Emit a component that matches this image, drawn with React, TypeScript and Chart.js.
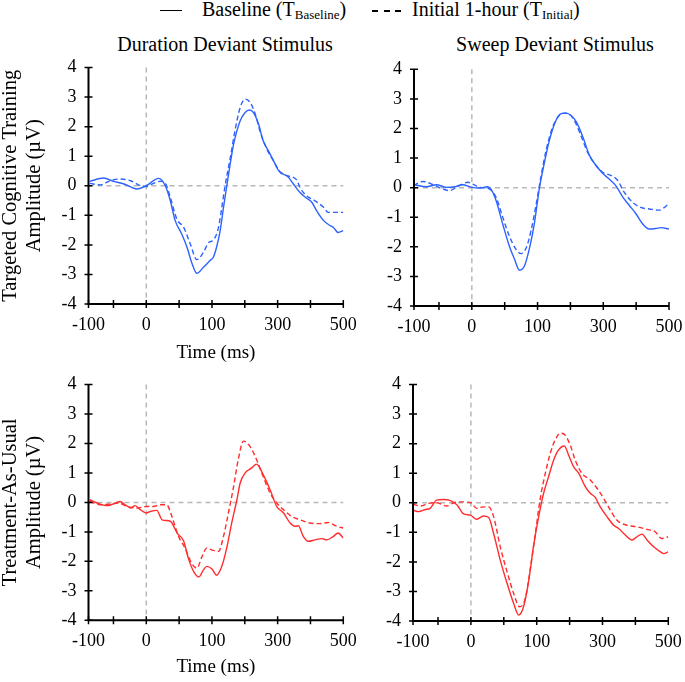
import React, { useEffect, useRef } from 'react';
import { Chart, registerables } from 'chart.js';

Chart.register(...registerables);

// ---- axis ticks ----
const xMin = -88;
const xMax = 300;
const xTickValues = [-88, -50, 0, 50, 100, 150, 200, 250, 300];
const xTickLabels = ['-100', '', '0', '', '100', '', '300', '', '500'];
const yMin = -4;
const yMax = 4;

// ---- Targeted Cognitive Training, Duration deviant ----
const tlBaseX = [-86,-65,-50,-34,-14,0,19,29,36.5,44,54,62,69,77,87,97,102,107,112.5,117.6,122.6,127.7,133,143,150.5,157,163,171,178,186,193.6,201,209,216,224,234,244,252,259.5,270,280,285,292,300];
const tlBaseY = [0.15,0.26,0.15,0.06,-0.11,0,0.25,0,-0.5,-1.18,-1.63,-2.08,-2.59,-2.96,-2.76,-2.53,-2.42,-2.08,-1.52,-0.73,0,0.73,1.41,2.2,2.48,2.56,2.48,2.08,1.52,1.18,0.85,0.53,0.39,0.3,0.06,-0.23,-0.42,-0.56,-0.85,-1.18,-1.35,-1.41,-1.58,-1.52];
const tlInitX = [-86,-70,-55,-40,-24,-9,0,11,21,29,36.5,46.6,57,67,77,87,95,102,110,115,120,128,135,143,150.5,158,166,173,183.5,193.6,204,214,229,234,244,257,270,277,300];
const tlInitY = [0.08,0.03,0.17,0.23,0.17,0,-0.03,0.08,0.15,0.08,-0.39,-1.13,-1.41,-1.97,-2.5,-2.25,-1.92,-1.84,-1.41,-0.73,0,0.96,1.86,2.65,2.93,2.82,2.42,1.86,1.24,0.85,0.45,0.34,0.2,-0.06,-0.34,-0.51,-0.73,-0.9,-0.9];

// ---- Targeted Cognitive Training, Sweep deviant ----
const trBaseX = [-88.7,-69,-54,-39,-26,-14,0,12,24,29,37,47,57,65,72.5,80,88,95,103,110,118,128,136,143,151,159,169,179,189,199,209,219,230,240,250,260,270,280,288,300];
const trBaseY = [0.1,0.03,0.1,0.01,0.03,0.1,0.01,-0.01,0.03,-0.05,-0.44,-1.23,-1.97,-2.42,-2.79,-2.65,-2.02,-1.23,0.01,0.8,1.6,2.27,2.5,2.52,2.44,2.22,1.71,1.09,0.75,0.49,0.29,0.07,-0.33,-0.61,-0.89,-1.23,-1.4,-1.38,-1.35,-1.4];
const trInitX = [-88.7,-74.5,-59,-44,-34,-19,-6,1.5,12,27,37,47,57,67,75,83,90,98,105,113,123,133,141,148.5,156,166,176,189,199,212,222,232,245,257,270,285,293,300];
const trInitY = [0.07,0.21,0.1,-0.05,-0.1,0.07,0.18,0.12,0.01,-0.05,-0.33,-1.0,-1.63,-2.08,-2.23,-2.02,-1.46,-0.55,0.35,1.26,2.05,2.44,2.52,2.48,2.27,1.76,1.2,0.75,0.52,0.41,0.24,-0.16,-0.5,-0.67,-0.72,-0.76,-0.67,-0.53];

// ---- Treatment-As-Usual, Duration deviant ----
const blBaseX = [-86,-75,-60,-50,-40,-32,-24,-17,-9,0,6,16,24,36.5,47,57,64,72,80,87,92,100,107,115,123,130,138,143,150.5,160.6,168,178,188.5,198.7,209,219,226.5,231.6,239,247,257,267,275,285,292,300];
const blBaseY = [0.09,-0.02,-0.11,-0.05,0.03,-0.08,-0.19,-0.11,-0.25,-0.36,-0.31,-0.27,-0.59,-0.64,-1.04,-1.32,-1.89,-2.34,-2.53,-2.29,-2.17,-2.26,-2.47,-2.17,-1.49,-0.7,0.09,0.66,1.0,1.17,1.3,0.94,0.43,-0.14,-0.36,-0.7,-0.81,-0.79,-1.15,-1.32,-1.27,-1.23,-1.27,-1.15,-1.04,-1.21];
const blInitX = [-86,-70,-55,-42,-29,-14,0,11,21,31,39,49,59,69,77,85,92,102,110,117.6,125,133,140,148,158,168,178,188.5,198.7,209,221.5,234,249,264.5,277,290,300];
const blInitY = [0.03,-0.08,-0.05,-0.02,-0.14,-0.19,-0.14,-0.14,-0.08,-0.08,-0.48,-1.15,-1.55,-2.06,-2.23,-1.83,-1.55,-1.63,-1.66,-1.15,-0.36,0.54,1.45,2.08,1.9,1.45,0.88,0.32,-0.02,-0.25,-0.48,-0.59,-0.7,-0.72,-0.68,-0.81,-0.87];

// ---- Treatment-As-Usual, Sweep deviant ----
const brBaseX = [-88,-79.6,-69,-62,-52,-41.5,-31,-21,-11,-1,9,19,27,34.5,44.6,55,65,72.5,80,88,95,103,110.5,118,125.7,133,142,148.5,156,164,174,181.4,189,196.6,206.8,217,224.5,234.6,244.8,252.4,260,267.6,277.7,288,293,300];
const brBaseY = [-0.25,-0.3,-0.23,-0.19,0.09,0.11,0.07,-0.08,-0.38,-0.42,-0.56,-0.45,-0.5,-1.04,-1.94,-2.73,-3.41,-3.8,-3.52,-2.62,-1.49,-0.47,0.32,0.88,1.44,1.78,1.92,1.61,1.22,0.99,0.54,0.32,0.18,-0.14,-0.47,-0.76,-0.87,-1.09,-1.26,-1.15,-1.06,-1.26,-1.49,-1.66,-1.72,-1.66];
const brInitX = [-88,-77,-64,-52,-36.5,-26,-16,0,9,19,27,34.5,44.6,55,65,74,82.6,90,98,105,113,120.6,128,136,143,151,158.6,168.8,181.4,191.6,201.7,212,222,237,252,267.6,280,290,300];
const brInitY = [-0.05,-0.11,-0.02,0,-0.11,0,0.03,0,-0.19,-0.14,-0.14,-0.47,-1.49,-2.34,-3.07,-3.52,-3.24,-2.28,-1.04,0.09,0.99,1.67,2.12,2.35,2.29,1.95,1.44,0.99,0.77,0.49,0.15,-0.25,-0.59,-0.76,-0.81,-0.9,-0.98,-1.21,-1.15];

const SERIF = '"Liberation Serif", "Times New Roman", serif';
const BLUE = '#2d62ff';
const RED = '#ff2d2d';

const zip = (xs: number[], ys: number[]) => xs.map((x, i) => ({ x, y: ys[i] }));

const axesPlugin = {
  id: 'eegAxes',
  beforeDatasetsDraw(chart: any) {
    const { ctx, chartArea, scales } = chart;
    const { left, right, top, bottom } = chartArea;
    const y0 = scales.y.getPixelForValue(0);
    const x0 = scales.x.getPixelForValue(0);
    ctx.save();
    ctx.strokeStyle = '#b8b8b8';
    ctx.lineWidth = 1.5;
    ctx.setLineDash([5, 4]);
    ctx.beginPath();
    ctx.moveTo(left, y0);
    ctx.lineTo(right, y0);
    ctx.moveTo(x0, top);
    ctx.lineTo(x0, bottom);
    ctx.stroke();
    ctx.restore();
  },
  afterDraw(chart: any) {
    const { ctx, chartArea, scales } = chart;
    const { left, right, top, bottom } = chartArea;
    ctx.save();
    ctx.strokeStyle = '#000';
    ctx.lineWidth = 2;
    ctx.beginPath();
    ctx.moveTo(left, top);
    ctx.lineTo(left, bottom);
    ctx.lineTo(right, bottom);
    ctx.stroke();
    ctx.lineWidth = 1.5;
    ctx.beginPath();
    scales.x.ticks.forEach((t: any) => {
      const px = scales.x.getPixelForValue(t.value);
      ctx.moveTo(px, bottom - 4);
      ctx.lineTo(px, bottom + 4);
    });
    scales.y.ticks.forEach((t: any) => {
      const py = scales.y.getPixelForValue(t.value);
      ctx.moveTo(left - 4, py);
      ctx.lineTo(left + 4, py);
    });
    ctx.stroke();
    ctx.restore();
  },
};

type PanelProps = {
  left: number; top: number; width: number; height: number;
  plotLeft: number; plotTop: number; plotRight: number; plotBottom: number;
  yTitle: string[] | null; xTitle: boolean; xTitlePad: number; color: string;
  baseX: number[]; baseY: number[]; initX: number[]; initY: number[];
};

function Panel(p: PanelProps) {
  const ref = useRef<HTMLCanvasElement>(null);
  useEffect(() => {
    if (!ref.current) return;
    const yAxisWidth = p.plotLeft - p.left;
    const xAxisHeight = p.top + p.height - p.plotBottom;
    const chart = new Chart(ref.current, {
      type: 'line',
      data: {
        datasets: [
          {
            data: zip(p.baseX, p.baseY),
            borderColor: p.color,
            borderWidth: 1.4,
            pointRadius: 0,
            tension: 0.4,
            cubicInterpolationMode: 'monotone',
            fill: false,
          },
          {
            data: zip(p.initX, p.initY),
            borderColor: p.color,
            borderWidth: 1.4,
            borderDash: [5, 3],
            pointRadius: 0,
            tension: 0.4,
            cubicInterpolationMode: 'monotone',
            fill: false,
          },
        ],
      },
      options: {
        animation: false,
        responsive: false,
        maintainAspectRatio: false,
        events: [],
        layout: {
          autoPadding: false,
          padding: {
            left: 0,
            top: p.plotTop - p.top,
            right: p.left + p.width - p.plotRight,
            bottom: 0,
          },
        },
        plugins: { legend: { display: false }, tooltip: { enabled: false } },
        scales: {
          x: {
            type: 'linear',
            min: xMin,
            max: xMax,
            afterBuildTicks: (s: any) => {
              s.ticks = xTickValues.map((v) => ({ value: v }));
            },
            afterFit: (s: any) => {
              s.height = xAxisHeight;
              s.paddingLeft = 0;
              s.paddingRight = 0;
            },
            ticks: {
              autoSkip: false,
              maxRotation: 0,
              padding: 10,
              color: '#000',
              font: { family: SERIF, size: 18 },
              callback: (_v: any, i: number) => xTickLabels[i],
            },
            grid: { display: false, drawTicks: false },
            border: { display: false },
            title: {
              display: p.xTitle,
              text: 'Time (ms)',
              color: '#000',
              font: { family: SERIF, size: 19, lineHeight: 1.2 },
              padding: { top: 0, bottom: p.xTitlePad },
            },
          },
          y: {
            type: 'linear',
            min: yMin,
            max: yMax,
            afterFit: (s: any) => {
              s.width = yAxisWidth;
              s.paddingTop = 0;
              s.paddingBottom = 0;
            },
            ticks: {
              stepSize: 1,
              padding: 12,
              color: '#000',
              font: { family: SERIF, size: 18 },
            },
            grid: { display: false, drawTicks: false },
            border: { display: false },
            title: {
              display: !!p.yTitle,
              text: p.yTitle || '',
              color: '#000',
              font: { family: SERIF, size: 20.5, lineHeight: 1.15 },
              padding: { top: 0, bottom: 0 },
            },
          },
        },
      },
      plugins: [axesPlugin],
    } as any);
    return () => chart.destroy();
  }, []);
  return (
    <canvas
      ref={ref}
      width={p.width}
      height={p.height}
      style={{ position: 'absolute', left: p.left, top: p.top, width: p.width, height: p.height }}
    />
  );
}

export default function App() {
  const textStyle: React.CSSProperties = {
    position: 'absolute',
    fontFamily: SERIF,
    color: '#000',
    whiteSpace: 'nowrap',
  };
  const subStyle: React.CSSProperties = { fontSize: 13, verticalAlign: -3, lineHeight: 0 };
  return (
    <div style={{ position: 'fixed', left: 0, top: 0, width: 685, height: 682, background: '#fff', overflow: 'hidden' }}>
      {/* legend */}
      <div style={{ position: 'absolute', left: 160, top: 10, width: 22, height: 0, borderTop: '1.5px solid #000' }} />
      <div style={{ ...textStyle, left: 202, top: -2, fontSize: 20, lineHeight: '23px' }}>
        Baseline (T<span style={subStyle}>Baseline</span>)
      </div>
      <div
        style={{
          position: 'absolute', left: 372, top: 10, width: 29, height: 1.5,
          background: 'repeating-linear-gradient(90deg, #000 0 6px, transparent 6px 11.5px)',
        }}
      />
      <div style={{ ...textStyle, left: 412, top: -2, fontSize: 20, lineHeight: '23px' }}>
        Initial 1-hour (T<span style={subStyle}>Initial</span>)
      </div>
      {/* column titles */}
      <div style={{ ...textStyle, left: 225, top: 32, fontSize: 20, lineHeight: '24px', transform: 'translateX(-50%)' }}>
        Duration Deviant Stimulus
      </div>
      <div style={{ ...textStyle, left: 555, top: 32, fontSize: 20, lineHeight: '24px', transform: 'translateX(-50%)' }}>
        Sweep Deviant Stimulus
      </div>
      <Panel
        left={-1} top={50} width={366} height={320}
        plotLeft={88.5} plotTop={67.5} plotRight={343.3} plotBottom={304}
        yTitle={['Targeted Cognitive Training', 'Amplitude (µV)']} xTitle={true} xTitlePad={6} color={BLUE}
        baseX={tlBaseX} baseY={tlBaseY} initX={tlInitX} initY={tlInitY}
      />
      <Panel
        left={375} top={50} width={310} height={320}
        plotLeft={414} plotTop={69.3} plotRight={669} plotBottom={306}
        yTitle={null} xTitle={false} xTitlePad={0} color={BLUE}
        baseX={trBaseX} baseY={trBaseY} initX={trInitX} initY={trInitY}
      />
      <Panel
        left={-1} top={370} width={366} height={312}
        plotLeft={88.5} plotTop={384.5} plotRight={343.3} plotBottom={620.3}
        yTitle={['Treatment-As-Usual', 'Amplitude (µV)']} xTitle={true} xTitlePad={4} color={RED}
        baseX={blBaseX} baseY={blBaseY} initX={blInitX} initY={blInitY}
      />
      <Panel
        left={375} top={370} width={310} height={312}
        plotLeft={413} plotTop={384.5} plotRight={668.3} plotBottom={621}
        yTitle={null} xTitle={false} xTitlePad={0} color={RED}
        baseX={brBaseX} baseY={brBaseY} initX={brInitX} initY={brInitY}
      />
    </div>
  );
}
